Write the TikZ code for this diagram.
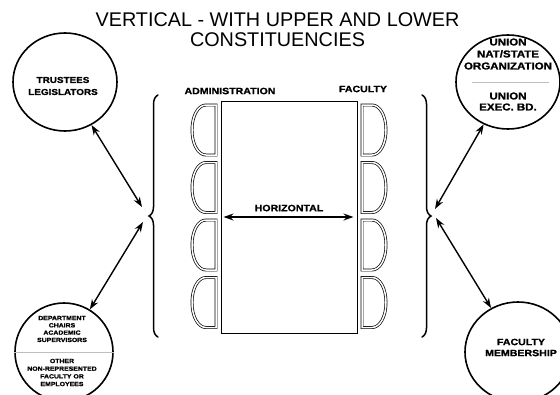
\documentclass[tikz,border=0pt]{standalone}
\usepackage{fontspec}
\setmainfont{Liberation Sans}
\newfontfamily\widefont[FakeStretch=1.15,FakeBold=1.2]{Liberation Sans}
\usetikzlibrary{shapes.geometric,arrows.meta,decorations.pathreplacing}

\begin{document}
\begin{tikzpicture}[x=1pt,y=-1pt,line cap=round,
    >={Stealth[length=10pt,width=7pt]},
    group/.style={draw,ellipse,line width=1.6pt,inner sep=0pt},
    lbl/.style 2 args={font=\widefont\bfseries\fontsize{#1}{#2}\selectfont,align=center,inner sep=0pt},
    chair/.style={draw,line width=0.7pt,double=white,double distance=1.5pt},
    brc/.style={draw,line width=1.5pt,decorate,decoration={brace,amplitude=9pt}},
    link/.style={<->,line width=1.4pt}]

  \useasboundingbox (0,0) rectangle (560,394);

  \node[font=\fontsize{19.8}{20}\selectfont,align=center,inner sep=0pt] (title) at (277.5,29.5)
    {VERTICAL - WITH UPPER AND LOWER\\CONSTITUENCIES};

  % the table and its chairs
  \node[draw,line width=0.9pt,minimum width=136pt,minimum height=232pt] (table) at (289,217) {};
  \foreach \y in {105,162.5,220,277.5} {
    \draw[chair] (216,\y) -- (206,\y) .. controls (198,\y) and (192,\y+11) .. (192,\y+25)
      .. controls (192,\y+39) and (198,\y+50) .. (206,\y+50) -- (216,\y+50) -- cycle;
    \draw[chair] (362,\y) -- (372,\y) .. controls (380,\y) and (386,\y+11) .. (386,\y+25)
      .. controls (386,\y+39) and (380,\y+50) .. (372,\y+50) -- (362,\y+50) -- cycle;
  }
  \node[lbl={9.2}{11}] (admin) at (230,91) {ADMINISTRATION};
  \node[lbl={9.2}{11}] (faculty) at (363,89) {FACULTY};
  \draw[link,shorten <=3pt,shorten >=4pt] (table.west) -- node[lbl={9.2}{11},above=5pt] (horiz) {HORIZONTAL} (table.east);

  % braces
  \draw[brc] (158,337) -- (158,95);
  \draw[brc] (422,95) -- (422,337);
  \coordinate (ltipU) at (142,207);
  \coordinate (ltipD) at (143,222);
  \coordinate (rtipU) at (435,209);
  \coordinate (rtipD) at (436,218);

  % outer constituencies
  \node[group,minimum width=104pt,minimum height=98pt] (trustees) at (65,82) {};
  \node[lbl={8.6}{12}] (trusteestxt) at (63,86) {TRUSTEES\\LEGISLATORS};

  \node[group,minimum width=104pt,minimum height=94pt] (union) at (508,82) {};
  \node[lbl={10}{12}] (uniontxt) at (508,54) {UNION\\NAT/STATE\\ORGANIZATION};
  \draw[gray!50,line width=0.5pt,shorten <=17pt,shorten >=12pt] (union.west) -- (union.east);
  \node[lbl={10}{11}] (exectxt) at (508,101.5) {UNION\\EXEC. BD.};

  \node[group,minimum width=98pt,minimum height=98pt] (chairs) at (64,352) {};
  \node[lbl={6}{7.3}] (chairstxt) at (62,329) {DEPARTMENT\\CHAIRS\\ACADEMIC\\SUPERVISORS};
  \draw[gray!50,line width=0.5pt] (chairs.west) -- (chairs.east);
  \node[lbl={6}{7.7}] (othertxt) at (62,372.5) {OTHER\\NON-REPRESENTED\\FACULTY OR\\EMPLOYEES};

  \node[group,minimum width=106pt,minimum height=100pt] (members) at (518,352) {};
  \node[lbl={9.2}{11}] (memberstxt) at (521,347.5) {FACULTY\\MEMBERSHIP};

  \draw[link] (trustees) -- (ltipU);
  \draw[link] (chairs) -- (ltipD);
  \draw[link] (union) -- (rtipU);
  \draw[link] (members) -- (rtipD);
\end{tikzpicture}
\end{document}
